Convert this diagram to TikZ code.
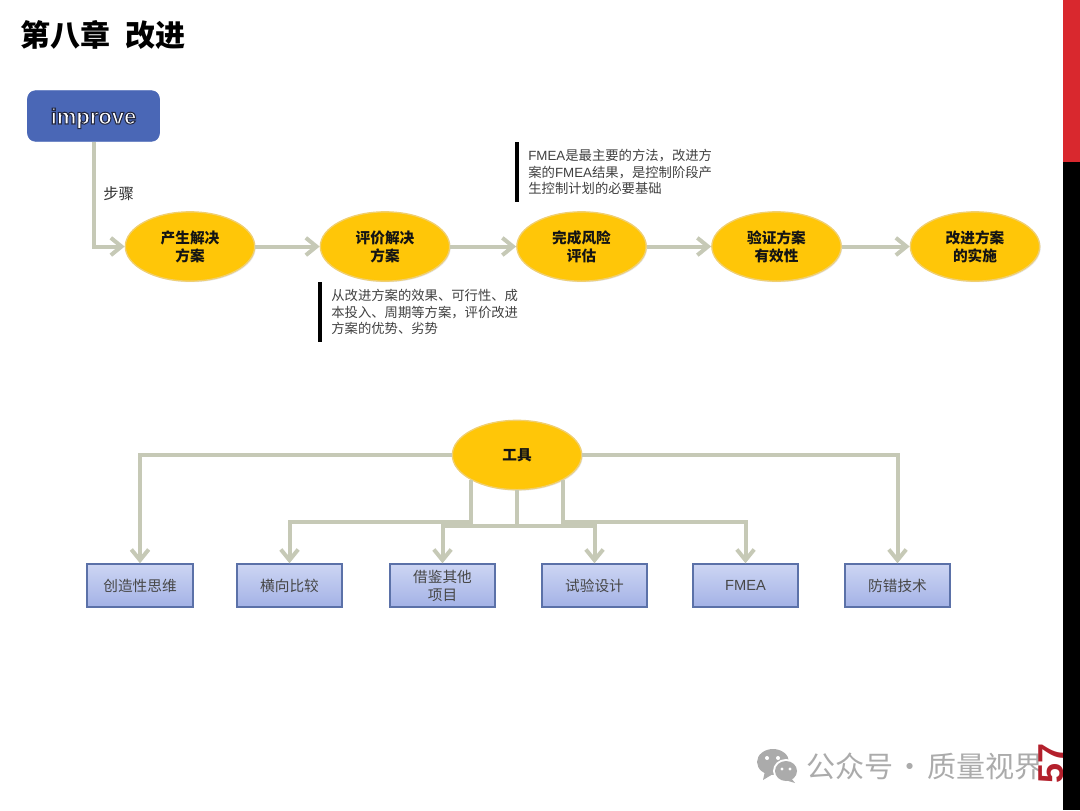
\documentclass[tikz,border=0pt]{standalone}
\usepackage{fontspec}
\setmainfont{Noto Sans CJK SC}
\newfontfamily\latfont{Liberation Sans}
\usepackage{tikz}
\usetikzlibrary{arrows.meta, shadows, shapes.geometric}
\usepackage{xcolor}
\definecolor{linkgray}{HTML}{C6C9B6}
\definecolor{stepyellow}{HTML}{FFC608}
\definecolor{stepedge}{HTML}{F0CF70}
\definecolor{improveblue}{HTML}{4A67B6}
\definecolor{boxedge}{HTML}{5B71A8}
\definecolor{boxtop}{HTML}{CDD5F3}
\definecolor{boxbottom}{HTML}{A3B2E6}
\definecolor{bandred}{HTML}{D9282E}
\definecolor{pagered}{HTML}{B3202C}
\definecolor{markgray}{HTML}{ABABAB}
\newcommand{\widecomma}{\char"FF0C\relax}

\begin{document}
\begin{tikzpicture}[
      x=0.75pt, y=-0.75pt,
      stepnode/.style={ellipse, draw=stepedge, line width=1pt, fill=stepyellow,
          minimum width=97pt, minimum height=52pt, inner sep=0pt, align=center,
          font=\fontsize{11}{13.5}\selectfont\bfseries, text=black!92,
          drop shadow={shadow xshift=0.8pt, shadow yshift=-0.8pt, opacity=0.2}},
      toolbox/.style={draw=boxedge, line width=1.3pt, top color=boxtop,
          bottom color=boxbottom, minimum width=79pt, minimum height=32pt,
          inner sep=0pt, align=center, font=\fontsize{11}{13.5}\selectfont, text=black!72},
      note/.style={anchor=north west, minimum height=45pt, inner xsep=8.5pt, inner ysep=0pt,
          outer sep=0pt, align=left, font=\fontsize{10}{12.2}\selectfont, text=black!75},
      notebar/.style={line width=2.4pt, black},
      arr/.style={-{Straight Barb[length=8pt, width=13pt, line width=3pt]}, linkgray,
          line width=3pt},
    ]
    \useasboundingbox (0,0) rectangle (1080,810);

    % Title
    \node[anchor=west, inner sep=0pt, font=\fontsize{22.5}{24}\selectfont\bfseries] (title)
    at (20.5,35) {第八章\hspace{11pt}改进};

    % Start box
    \node[draw=improveblue, fill=improveblue, rounded corners=6pt, minimum width=99pt,
      minimum height=38pt, inner sep=0pt, text=white,
      font=\fontsize{16.5}{18}\selectfont\latfont\bfseries] (improve) at (93.5,116)
    {\raisebox{-3pt}[9pt][3pt]{\special{pdf:code q 2 Tr 0.8 w 0.14 0.16 0.26 RG}improve\special{pdf:code Q}}};
    \node[anchor=west, inner sep=0pt, font=\fontsize{11.5}{13}\selectfont, text=black!80] (steplabel)
    at (103,194) {步骤};

    % Steps
    \foreach \name/\px/\txt in {S1/190/产生解决\\方案, S2/385/评价解决\\方案, S3/581.5/完成风险\\评估,
        S4/776.5/验证方案\\有效性, S5/975/改进方案\\的实施} {
        \node[stepnode] (\name) at (\px,246.5) {\txt};
      }

    % Step arrows
    \draw[arr] (improve.south) |- (S1.west);
    \foreach \a/\b in {S1/S2, S2/S3, S3/S4, S4/S5} {
        \draw[arr] (\a.east) -- (\b.west);
      }

    % Notes
    \node[note] (N1) at (517,142) {\latfont FMEA\normalfont 是最主要的方法\widecomma 改进方\\案的\latfont FMEA\normalfont 结果\widecomma 是控制阶段产\\生控制计划的必要基础};
    \node[note] (N2) at (320,282) {从改进方案的效果、可行性、成\\本投入、周期等方案\widecomma 评价改进\\方案的优势、劣势};
    \draw[notebar] (N1.north west) -- (N1.south west);
    \draw[notebar] (N2.north west) -- (N2.south west);

    % Tools
    \node[stepnode] (tool) at (517,455) {工具};
    \foreach \name/\px/\txt in {B1/140/创造性思维, B2/289.5/横向比较, B3/442.5/借鉴其他\\项目,
        B4/594.5/试验设计, B5/745.5/{\latfont FMEA}, B6/897.5/防错技术} {
        \node[toolbox] (\name) at (\px,585.5) {\txt};
      }

    % Tool arrows
    \draw[arr] (tool.west) -| (B1.north);
    \draw[arr] (tool.east) -| (B6.north);
    \draw[arr] (tool.209) -- ++(0,42) -| (B2.north);
    \draw[arr] (tool.331) -- ++(0,42) -| (B5.north);
    \draw[arr] (tool.south) -- ++(0,36) -| (B3.north);
    \draw[arr] (tool.south) -- ++(0,36) -| (B4.north);

    % Watermark
    \fill[markgray] (773,762) ellipse (16 and 13);
    \fill[markgray] (765,771) -- (763,780) -- (773,774) -- cycle;
    \fill[white] (786,771) ellipse (13 and 12);
    \fill[markgray] (786,771) ellipse (11 and 10);
    \fill[markgray] (791,778) -- (795,783) -- (785,780) -- cycle;
    \foreach \px/\py/\rr in {767/758/2, 778/758/2, 782/769/1.6, 790/769/1.6} {
        \fill[white] (\px,\py) circle (\rr);
      }
    \node[anchor=west, inner sep=0pt, text=markgray, font=\fontsize{21.8}{24}\selectfont] (mark)
    at (806,766) {公众号\makebox[25.5pt]{·}质量视界};

    % Page number and side band
    \node[rotate=90, inner sep=0pt, text=pagered,
      font=\fontsize{27}{28}\selectfont\latfont\bfseries] (page) at (1051,763) {57};
    \fill[bandred] (1063,0) rectangle (1080,162);
    \fill[black] (1063,162) rectangle (1080,810);
  \end{tikzpicture}
\end{document}
